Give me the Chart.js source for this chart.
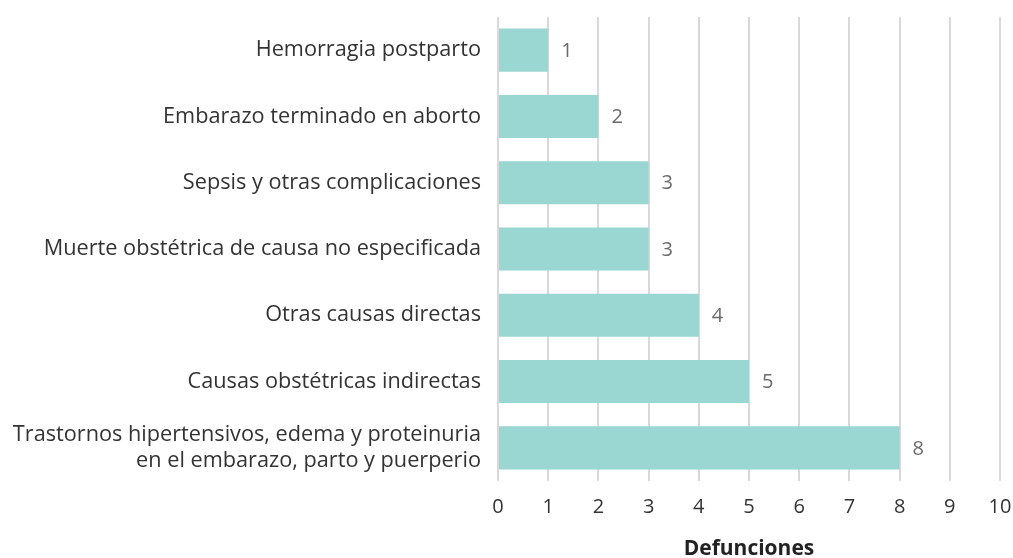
<!DOCTYPE html>
<html>
<head>
<meta charset="utf-8">
<script src="https://cdn.jsdelivr.net/npm/chart.js@4/dist/chart.umd.min.js"></script>
<style>
  html, body { margin: 0; padding: 0; background: #fff; }
  #wrap { width: 1013px; height: 558px; }
</style>
</head>
<body>
<div id="wrap"><canvas id="grafico" width="1013" height="558"></canvas></div>
<script>
// datos del grafico
const categorias = [
  "Hemorragia postparto",
  "Embarazo terminado en aborto",
  "Sepsis y otras complicaciones",
  "Muerte obstétrica de causa no especificada",
  "Otras causas directas",
  "Causas obstétricas indirectas",
  ["Trastornos hipertensivos, edema y proteinuria", "en el embarazo, parto y puerperio"]
];
const defunciones = [1, 2, 3, 3, 4, 5, 8];
const ticksX = [0, 1, 2, 3, 4, 5, 6, 7, 8, 9, 10];
const tituloX = "Defunciones";

const fuente = "'Open Sans', 'Noto Sans', sans-serif";

// etiquetas de valor a la derecha de cada barra
const etiquetasValor = {
  id: "etiquetasValor",
  afterDatasetsDraw(chart) {
    const ctx = chart.ctx;
    const meta = chart.getDatasetMeta(0);
    ctx.save();
    ctx.font = "20px " + fuente;
    ctx.fillStyle = "#6b6b6b";
    ctx.textAlign = "left";
    ctx.textBaseline = "middle";
    meta.data.forEach((barra, i) => {
      ctx.fillText(String(defunciones[i]), barra.x + 13, barra.y + 1);
    });
    ctx.restore();
  }
};

new Chart(document.getElementById("grafico").getContext("2d"), {
  type: "bar",
  data: {
    labels: categorias,
    datasets: [{
      data: defunciones,
      backgroundColor: "#9ad6d2",
      categoryPercentage: 1,
      barPercentage: 0.65
    }]
  },
  options: {
    indexAxis: "y",
    responsive: false,
    animation: false,
    layout: { padding: { top: 17, right: 13, left: 0, bottom: 0 } },
    plugins: {
      legend: { display: false },
      tooltip: { enabled: false }
    },
    scales: {
      x: {
        min: 0,
        max: 10,
        afterBuildTicks(scale) {
          scale.ticks = ticksX.map(v => ({ value: v }));
        },
        afterFit(scale) {
          scale.height = 77;
          scale.paddingRight = 0;
          scale.paddingLeft = 0;
        },
        ticks: {
          color: "#333",
          font: { family: fuente, size: 20 },
          padding: 14
        },
        grid: {
          color: "#d9d9d9",
          lineWidth: 2,
          drawTicks: false
        },
        border: { display: false },
        title: {
          display: true,
          text: tituloX,
          color: "#222",
          font: { family: fuente, size: 21, weight: "bold" },
          padding: { top: 10, bottom: -4 }
        }
      },
      y: {
        afterFit(scale) {
          scale.width = 498;
          scale.paddingTop = 0;
          scale.paddingBottom = 0;
        },
        grid: { display: false },
        border: { display: false },
        ticks: {
          color: "#333",
          font: { family: fuente, size: 21.7 },
          padding: 9,
          autoSkip: false
        }
      }
    }
  },
  plugins: [etiquetasValor]
});
</script>
</body>
</html>
